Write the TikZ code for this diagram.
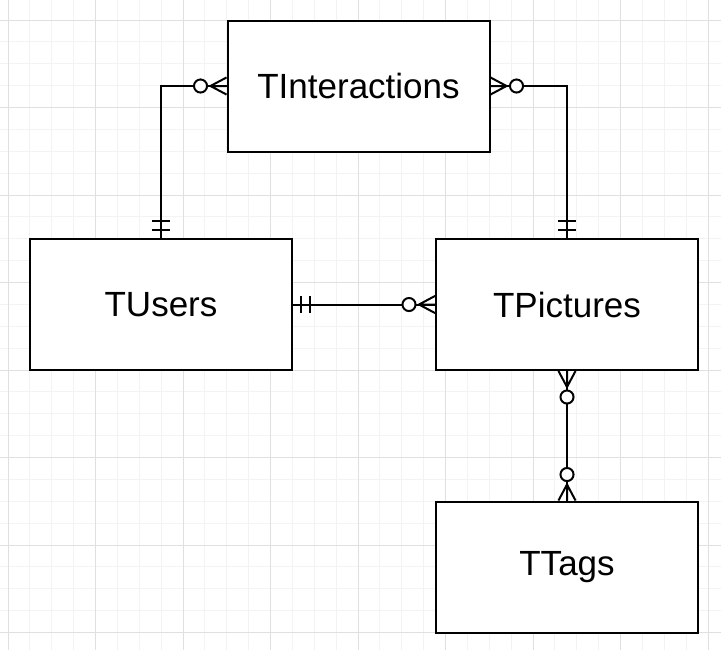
\documentclass[tikz,border=0pt]{standalone}
\usepackage{fontspec}
\setmainfont{Liberation Sans}
\usetikzlibrary{calc}
\definecolor{gridminor}{HTML}{F3F3F3}
\definecolor{gridmajor}{HTML}{E0E0E0}
\begin{document}
\begin{tikzpicture}[x=0.75pt,y=-0.75pt,
  entity/.style={draw, line width=1.5pt, fill=white, minimum width=196.5pt, minimum height=98.25pt, inner sep=0pt, font=\fontsize{26.25}{30}\selectfont},
  rel/.style={line width=1.5pt},
  zeromany/.pic={\draw[line width=1.5pt] (0,6.4pt) -- (12pt,0) -- (0,-6.4pt) (0,0) -- (12pt,0);
                 \draw[line width=1.5pt, fill=white] (19.5pt,0) circle (4.9pt);},
  oneone/.pic={\draw[line width=1.5pt] (6pt,-6.4pt) -- (6pt,6.4pt) (12.75pt,-6.4pt) -- (12.75pt,6.4pt);}
]
\fill[white] (0,0) rectangle (721,650);
\useasboundingbox (0,0) rectangle (721,650);
% grid
\foreach \k in {0,...,32}{\draw[gridminor, line width=0.75pt] ({8+21.875*\k},0) -- ({8+21.875*\k},650);}
\foreach \k in {0,...,28}{\draw[gridminor, line width=0.75pt] (0,{20+21.875*\k}) -- (721,{20+21.875*\k});}
\foreach \k in {0,...,8}{\draw[gridmajor, line width=0.75pt] ({8+87.5*\k},0) -- ({8+87.5*\k},650);}
\foreach \k in {0,...,7}{\draw[gridmajor, line width=0.75pt] (0,{20+87.5*\k}) -- (721,{20+87.5*\k});}
% entities
\node[entity] (I) at (358.5,86) {TInteractions};
\node[entity] (U) at (161,304.5) {TUsers};
\node[entity] (P) at (567,304.5) {TPictures};
\node[entity] (T) at (567,567) {TTags};
% connectors
\draw[rel] (U.north) |- (I.west);
\draw[rel] (I.east) -| (P.north);
\draw[rel] (U.east) -- (P.west);
\draw[rel] (P.south) -- (T.north);
% markers
\pic[rotate=180] at (I.west) {zeromany};
\pic[rotate=90] at (U.north) {oneone};
\pic at (I.east) {zeromany};
\pic[rotate=90] at (P.north) {oneone};
\pic at (U.east) {oneone};
\pic[rotate=180] at (P.west) {zeromany};
\pic[rotate=-90] at (P.south) {zeromany};
\pic[rotate=90] at (T.north) {zeromany};
\end{tikzpicture}
\end{document}
